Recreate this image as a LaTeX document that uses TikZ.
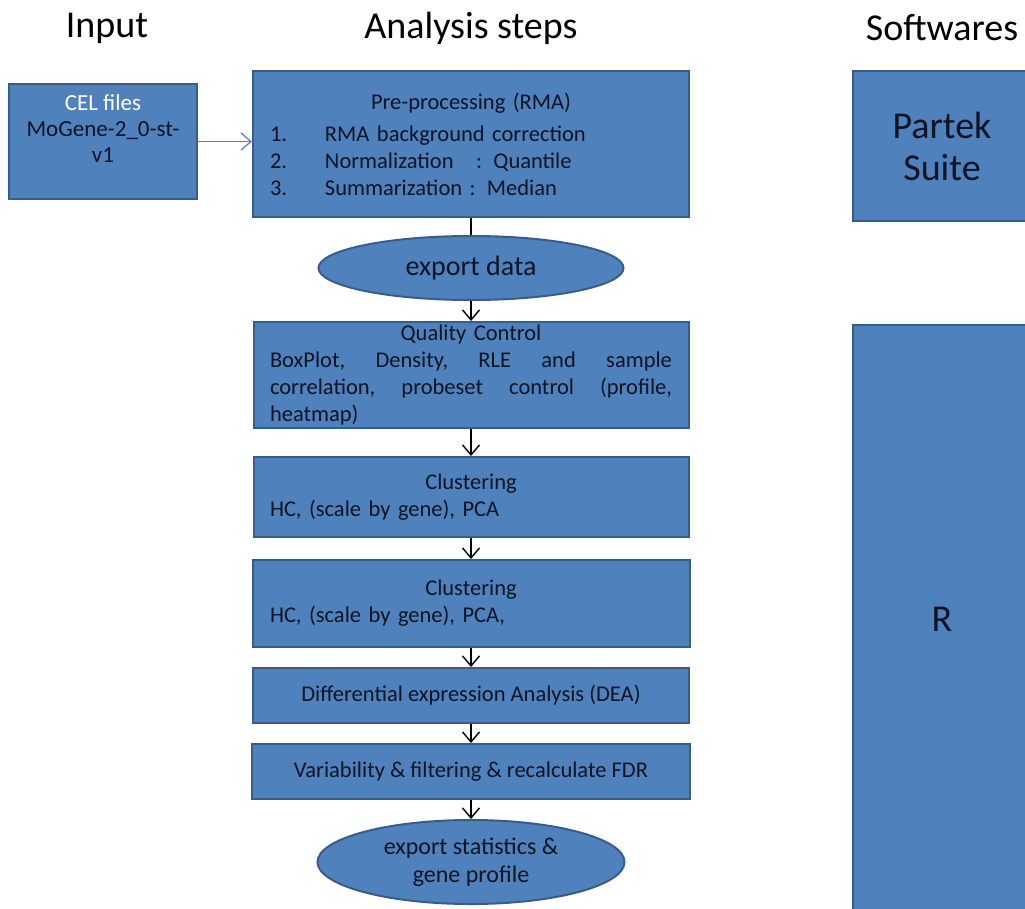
\documentclass[tikz,border=0pt]{standalone}
\usepackage{fontspec}
\setmainfont{Carlito}
\usetikzlibrary{arrows.meta,shapes.geometric}
\definecolor{boxfill}{RGB}{79,129,189}
\definecolor{boxborder}{RGB}{56,93,138}
\definecolor{boxtext}{RGB}{14,20,34}
\definecolor{celarrow}{RGB}{79,129,189}
\newcommand{\ctrline}[1]{\makebox[\hsize]{#1}}
\newcommand{\fullline}[1]{\makebox[\hsize][s]{#1}}

\begin{document}
\begin{tikzpicture}[
  x=1pt, y=-1pt,
  >={Straight Barb[length=10pt,width=17pt]},
  box/.style={
    draw=boxborder, fill=boxfill, line width=2pt,
    text=boxtext, inner sep=0pt,
    font=\fontsize{22.5}{27}\selectfont
  },
  stepbox/.style={box, align=left, text width=402pt},
  oval/.style={box, ellipse, align=center},
  soft/.style={box, align=center, font=\fontsize{38}{42}\selectfont},
  title/.style={font=\fontsize{38}{42}\selectfont, text=black},
  arr/.style={->, line width=1.4pt, color=black},
  link/.style={line width=1.4pt, color=black}
]
\clip (0,0) rectangle (1025,908);
\fill[white] (0,0) rectangle (1025,908);

% ---- Column titles ----
\node[title] (tinput) at (107,28) {Input};
\node[title] (tsteps) at (471,28) {Analysis steps};
\node[title] (tsoft) at (942,28) {Softwares};

% ---- Input ----
\node[box, align=center, minimum width=188, minimum height=115,
  font=\fontsize{23}{26}\selectfont] (cel) at (103,141.5) {%
  {\color{white}CEL files}\\
  MoGene-2\_0-st-\\
  v1\\
  \mbox{}};

% ---- Analysis steps ----
\node[stepbox, minimum width=436, minimum height=146] (prep) at (471,144) {%
  \ctrline{Pre-processing (RMA)}\\[5pt]
  \makebox[55pt][l]{1.}RMA background correction\\
  \makebox[55pt][l]{2.}Normalization \ \ : Quantile\\
  \makebox[55pt][l]{3.}Summarization : Median};
\node[oval, minimum width=305, minimum height=64,
  font=\fontsize{28}{32}\selectfont] (expdata) at (471,268) {export data};
\node[stepbox, minimum width=435, minimum height=106] (qc) at (471,375) {%
  \ctrline{Quality Control}\\
  \fullline{BoxPlot,\hfill Density,\hfill RLE\hfill and\hfill sample}\\
  \fullline{correlation,\hfill probeset\hfill control\hfill (profile,}\\
  heatmap)};
\node[stepbox, minimum width=435, minimum height=80] (clust) at (471,497) {%
  \ctrline{Clustering}\\
  HC, (scale by gene), PCA};
\node[stepbox, minimum width=437, minimum height=87] (clustb) at (471,603.5) {%
  \ctrline{Clustering}\\
  HC, (scale by gene), PCA,};
\node[box, minimum width=436, minimum height=55] (dea) at (471,695.5) {%
  Differential expression Analysis (DEA)};
\node[box, minimum width=438, minimum height=55] (filt) at (471,771.5) {%
  Variability \& filtering \& recalculate FDR};
\node[oval, minimum width=307, minimum height=84,
  font=\fontsize{24}{28}\selectfont] (expstat) at (471,862) {%
  export statistics \&\\gene profile};

% ---- Softwares ----
\node[soft, minimum width=178, minimum height=150] (partek) at (942,146) {%
  Partek\\Suite};
\node[soft, minimum width=178, minimum height=589] (rsoft) at (942,619.5) {R};

% ---- Connectors ----
\draw[->, line width=1.2pt, color=celarrow] (cel.east) -- (cel.east -| prep.west);
\draw[link] (prep) -- (expdata);
\draw[arr] (expdata) -- (qc);
\draw[arr] (qc) -- (clust);
\draw[arr] (clust) -- (clustb);
\draw[arr] (clustb) -- (dea);
\draw[arr] (dea) -- (filt);
\draw[arr] (filt) -- (expstat);

\end{tikzpicture}
\end{document}
